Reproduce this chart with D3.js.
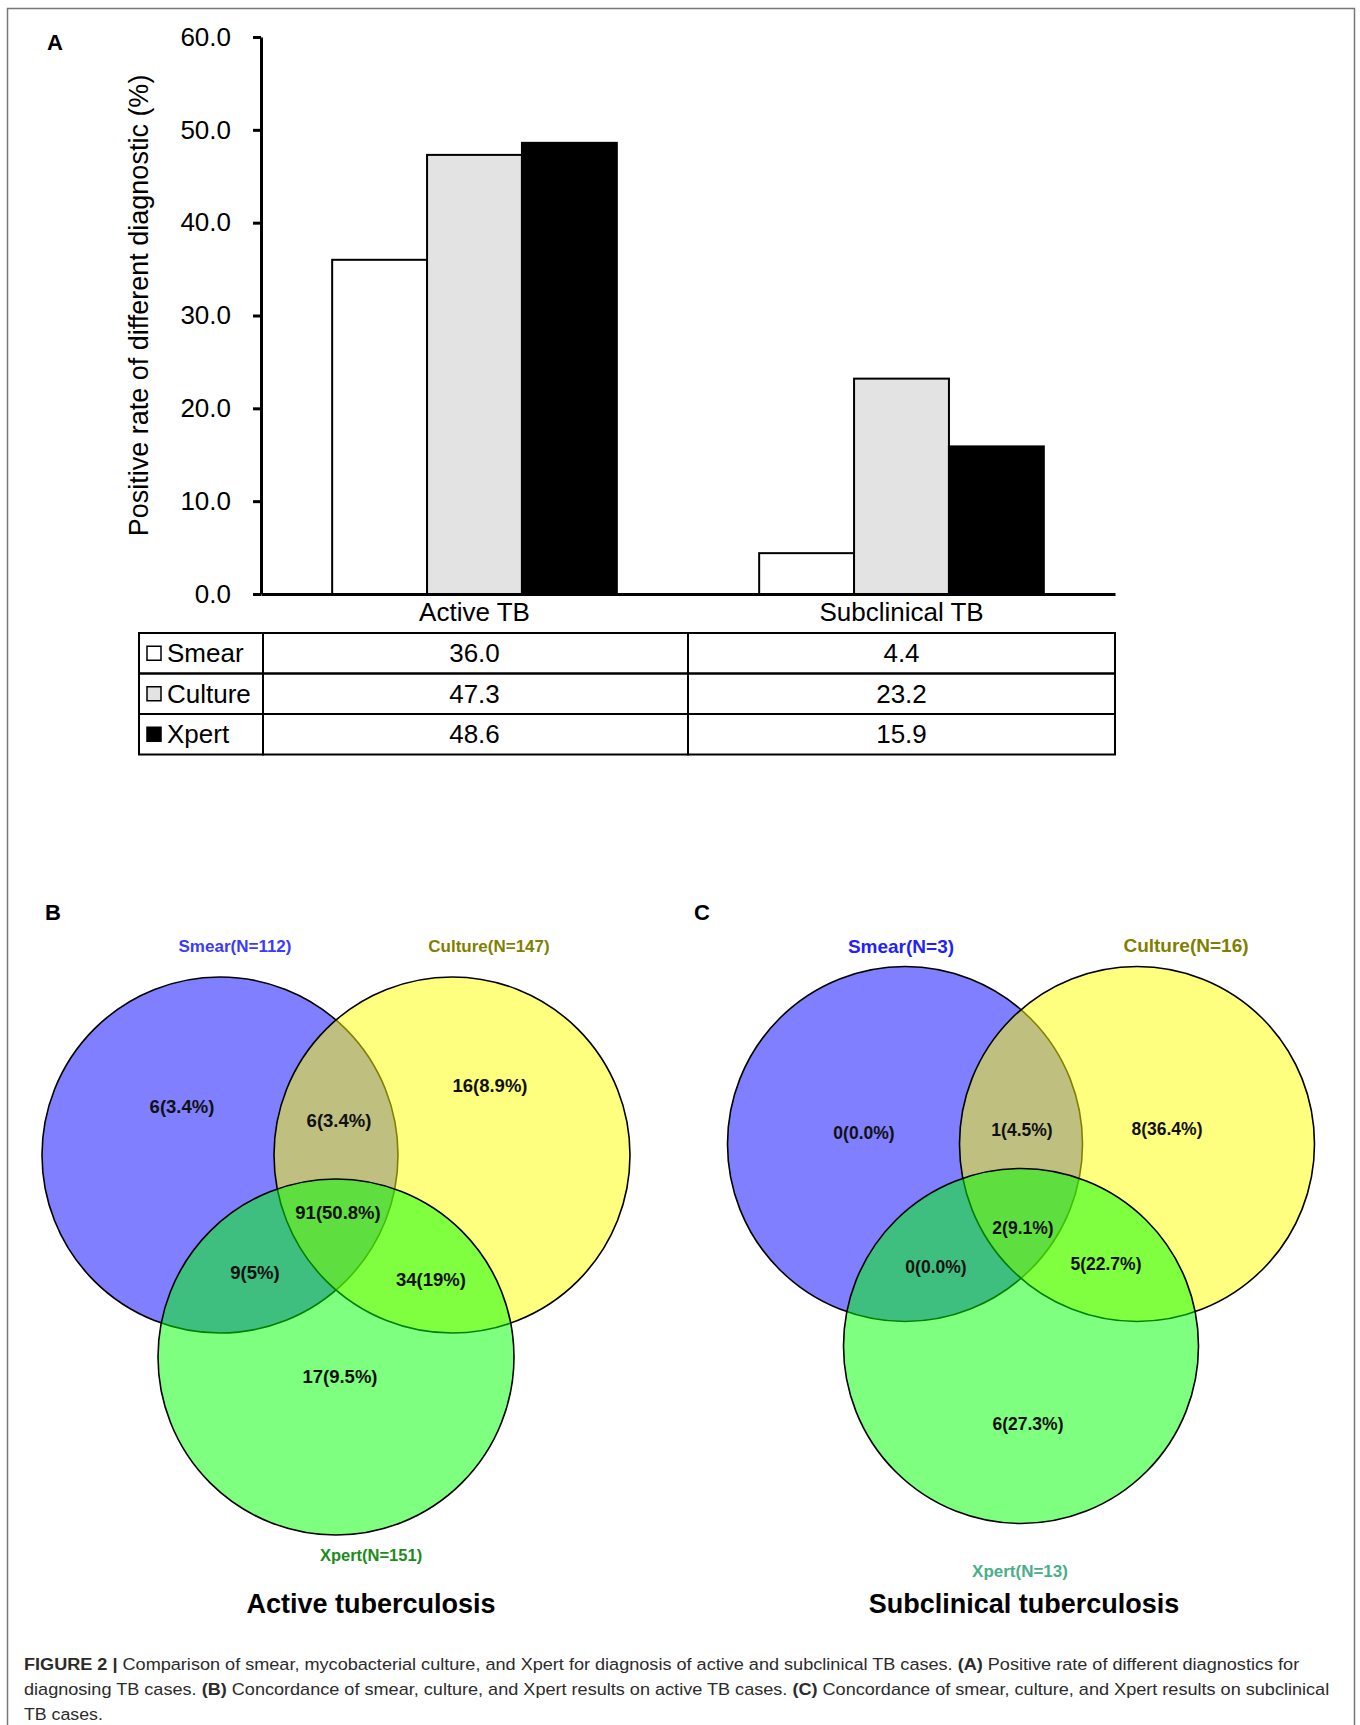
<!DOCTYPE html>
<html>
<head>
<meta charset="utf-8">
<title>Figure 2</title>
<script src="https://d3js.org/d3.v7.min.js"></script>
<style>
  body { margin: 0; background: #fff; }
  svg text { font-family: "Liberation Sans", Arial, sans-serif; }
</style>
</head>
<body>
<div id="chart"></div>
<script>
// ---- panel A data ----
var categories = ["Active TB", "Subclinical TB"];
var methods = ["Smear", "Culture", "Xpert"];
var smearRates = [36.0, 4.4];
var cultureRates = [47.3, 23.2];
var xpertRates = [48.6, 15.9];
var yTicks = [0, 10, 20, 30, 40, 50, 60];
var yTitle = "Positive rate of different diagnostic (%)";

// ---- panel B / C data ----
var activeSets = ["Smear(N=112)", "Culture(N=147)", "Xpert(N=151)"];
// order: smear only, culture only, xpert only, smear+culture, smear+xpert, culture+xpert, all three
var activeRegions = ["6(3.4%)", "16(8.9%)", "17(9.5%)", "6(3.4%)", "9(5%)", "34(19%)", "91(50.8%)"];
var subclinicalSets = ["Smear(N=3)", "Culture(N=16)", "Xpert(N=13)"];
var subclinicalRegions = ["0(0.0%)", "8(36.4%)", "6(27.3%)", "1(4.5%)", "0(0.0%)", "5(22.7%)", "2(9.1%)"];

var captionLines = [
  [["FIGURE 2 | ", true], ["Comparison of smear, mycobacterial culture, and Xpert for diagnosis of active and subclinical TB cases. ", false], ["(A)", true], [" Positive rate of different diagnostics for", false]],
  [["diagnosing TB cases. ", false], ["(B)", true], [" Concordance of smear, culture, and Xpert results on active TB cases. ", false], ["(C)", true], [" Concordance of smear, culture, and Xpert results on subclinical", false]],
  [["TB cases.", false]]
];

var W = 1360, H = 1725;
var svg = d3.select("#chart").append("svg")
    .attr("width", W)
    .attr("height", H);

// outer frame
svg.append("rect")
    .attr("x", 7.5).attr("y", 8.5)
    .attr("width", 1347).attr("height", 1740)
    .attr("fill", "none")
    .attr("stroke", "#777")
    .attr("stroke-width", 1.5);

// ================= Panel A =================
var rates = [smearRates, cultureRates, xpertRates];
var fills = ["#ffffff", "#e3e3e3", "#000000"];

var x0 = d3.scaleBand().domain(categories).range([261, 1115]);
var x1 = d3.scaleBand().domain(methods).range([0, x0.bandwidth()]).paddingOuter(0.75);
var y = d3.scaleLinear().domain([0, 60]).range([594, 37]);

svg.append("text")
    .attr("x", 47).attr("y", 50)
    .attr("font-size", 22).attr("font-weight", "bold")
    .text("A");

// bars
var barData = [];
categories.forEach(function(c, ci) {
  methods.forEach(function(m, mi) {
    barData.push({cat: c, method: m, value: rates[mi][ci], fill: fills[mi]});
  });
});

svg.append("g").selectAll("rect")
  .data(barData)
  .enter().append("rect")
    .attr("x", function(d) { return x0(d.cat) + x1(d.method); })
    .attr("y", function(d) { return y(d.value); })
    .attr("width", x1.bandwidth())
    .attr("height", function(d) { return y(0) - y(d.value); })
    .attr("fill", function(d) { return d.fill; })
    .attr("stroke", "#000")
    .attr("stroke-width", 2);

// y axis
var yAxis = d3.axisLeft(y)
    .tickValues(yTicks)
    .tickFormat(d3.format(".1f"))
    .tickSize(8)
    .tickSizeOuter(0)
    .tickPadding(22);
var gy = svg.append("g")
    .attr("transform", "translate(261,0)")
    .call(yAxis);
gy.select(".domain").attr("stroke-width", 3);
gy.selectAll(".tick line").attr("stroke-width", 3);
gy.selectAll(".tick text")
    .attr("font-size", 26)
    .attr("font-family", "Liberation Sans, Arial, sans-serif")
    .attr("fill", "#000");

// x axis
var xAxis = d3.axisBottom(x0).tickSize(0).tickSizeOuter(0).tickPadding(9);
var gx = svg.append("g")
    .attr("transform", "translate(0," + y(0) + ")")
    .call(xAxis);
gx.select(".domain").attr("stroke-width", 3);
gx.selectAll(".tick text")
    .attr("font-size", 26)
    .attr("font-family", "Liberation Sans, Arial, sans-serif")
    .attr("fill", "#000");

// y title
svg.append("text")
    .attr("transform", "translate(139," + ((y(0) + y(60)) / 2 - 10) + ") rotate(-90)")
    .attr("text-anchor", "middle")
    .attr("dominant-baseline", "central")
    .attr("font-size", 27)
    .text(yTitle);

// data table
var tableTop = 633, rowH = 40.5, labelLeft = 139;
var colEdges = [labelLeft, x0.range()[0] + 2, x0(categories[1]), x0.range()[1]];
var table = svg.append("g");

methods.forEach(function(m, mi) {
  var ry = tableTop + mi * rowH;
  // label cell
  table.append("rect")
      .attr("x", colEdges[0]).attr("y", ry)
      .attr("width", colEdges[1] - colEdges[0]).attr("height", rowH)
      .attr("fill", "none").attr("stroke", "#000").attr("stroke-width", 2);
  table.append("rect")
      .attr("x", colEdges[0] + 8).attr("y", ry + rowH / 2 - 7)
      .attr("width", 14).attr("height", 14)
      .attr("fill", fills[mi]).attr("stroke", "#000").attr("stroke-width", 1.5);
  table.append("text")
      .attr("x", colEdges[0] + 28).attr("y", ry + rowH / 2)
      .attr("dominant-baseline", "central")
      .attr("font-size", 26)
      .text(m);
  categories.forEach(function(c, ci) {
    var left = ci === 0 ? colEdges[1] : colEdges[2];
    var right = ci === 0 ? colEdges[2] : colEdges[3];
    table.append("rect")
        .attr("x", left).attr("y", ry)
        .attr("width", right - left).attr("height", rowH)
        .attr("fill", "none").attr("stroke", "#000").attr("stroke-width", 2);
    table.append("text")
        .attr("x", x0(c) + x0.bandwidth() / 2).attr("y", ry + rowH / 2)
        .attr("text-anchor", "middle")
        .attr("dominant-baseline", "central")
        .attr("font-size", 26)
        .text(d3.format(".1f")(rates[mi][ci]));
  });
});

// ================= Venn panels =================
var circleColors = ["rgb(0,0,255)", "rgb(255,255,0)", "rgb(0,255,0)"];

function venn(opts) {
  var g = svg.append("g");
  // unit layout -> pixels
  var sx = d3.scaleLinear().domain([-1, 1]).range([opts.ox - 116, opts.ox + 116]);
  var sy = d3.scaleLinear().domain([0, 1]).range([opts.oy, opts.oy + 202]);
  var centers = [[-1, 0], [1, 0], [0, 1]];

  g.selectAll("circle")
    .data(centers)
    .enter().append("circle")
      .attr("cx", function(d) { return sx(d[0]); })
      .attr("cy", function(d) { return sy(d[1]); })
      .attr("r", opts.r)
      .attr("fill", function(d, i) { return circleColors[i]; })
      .attr("fill-opacity", 0.5)
      .attr("stroke", "#000")
      .attr("stroke-width", 1.6);

  g.selectAll("text.region")
    .data(opts.regions)
    .enter().append("text")
      .attr("class", "region")
      .attr("x", function(d, i) { return opts.ox + opts.regionPos[i][0]; })
      .attr("y", function(d, i) { return opts.oy + opts.regionPos[i][1]; })
      .attr("text-anchor", "middle")
      .attr("dominant-baseline", "central")
      .attr("font-size", opts.regionSize)
      .attr("font-weight", "bold")
      .attr("fill", "#111")
      .text(function(d) { return d; });

  g.selectAll("text.set")
    .data(opts.sets)
    .enter().append("text")
      .attr("class", "set")
      .attr("x", function(d, i) { return opts.ox + opts.setPos[i][0]; })
      .attr("y", function(d, i) { return opts.oy + opts.setPos[i][1]; })
      .attr("text-anchor", "middle")
      .attr("dominant-baseline", "central")
      .attr("font-size", function(d, i) { return opts.setSize[i]; })
      .attr("font-weight", "bold")
      .attr("fill", function(d, i) { return opts.setColors[i]; })
      .text(function(d) { return d; });

  g.append("text")
      .attr("x", opts.ox + opts.titlePos[0])
      .attr("y", opts.oy + opts.titlePos[1])
      .attr("text-anchor", "middle")
      .attr("dominant-baseline", "central")
      .attr("font-size", 27)
      .attr("font-weight", "bold")
      .text(opts.title);

  svg.append("text")
      .attr("x", opts.letterPos[0]).attr("y", opts.letterPos[1])
      .attr("font-size", 22).attr("font-weight", "bold")
      .text(opts.letter);
}

venn({
  letter: "B", letterPos: [45, 920],
  ox: 336, oy: 1155, r: 178,
  sets: activeSets,
  regions: activeRegions,
  regionSize: 18.5,
  setSize: [17, 17, 16.5],
  setColors: ["#3a3aff", "#7f7f00", "#1c8c1c"],
  regionPos: [[-154, -49], [154, -70], [4, 221], [3, -35], [-81, 117], [95, 124], [2, 57]],
  setPos: [[-101, -209], [153, -209], [35, 400]],
  title: "Active tuberculosis", titlePos: [35, 449]
});

venn({
  letter: "C", letterPos: [694, 920],
  ox: 1021, oy: 1144, r: 177.5,
  sets: subclinicalSets,
  regions: subclinicalRegions,
  regionSize: 17.5,
  setSize: [19, 19, 17],
  setColors: ["#1f1fff", "#7f7f00", "#4bae8a"],
  regionPos: [[-157, -11], [146, -15], [7, 280], [1, -14], [-85, 123], [85, 120], [2, 84]],
  setPos: [[-120, -198], [165, -199], [-1, 427]],
  title: "Subclinical tuberculosis", titlePos: [3, 460]
});

// ================= caption =================
var capY = [1670, 1695, 1720];
var capRight = [1300, 1330, 103];
captionLines.forEach(function(line, li) {
  var t = svg.append("text")
      .attr("font-size", 17)
      .attr("fill", "#2b2b2b");
  line.forEach(function(part) {
    t.append("tspan")
        .attr("font-weight", part[1] ? "bold" : "normal")
        .text(part[0]);
  });
  var natural = t.node().getComputedTextLength();
  var k = (capRight[li] - 24) / natural;
  t.attr("transform", "translate(24," + capY[li] + ") scale(" + k + ",1)");
});
</script>
</body>
</html>
